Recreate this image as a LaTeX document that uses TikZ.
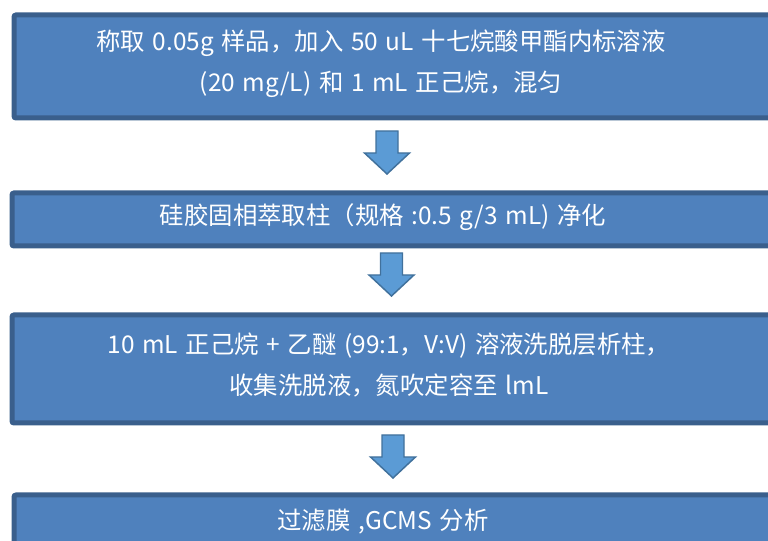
\documentclass[tikz,border=0pt]{standalone}
\usepackage{fontspec}
\setmainfont{Noto Sans CJK SC}[WordSpace=1.4]
\definecolor{boxfill}{HTML}{4F81BD}
\definecolor{boxline}{HTML}{3A5F8C}
\definecolor{arrfill}{HTML}{5B9BD5}
\definecolor{arrline}{HTML}{41719C}
\tikzset{
  stepbox/.style={draw=boxline, fill=boxfill, line width=3.75pt, rounded corners=1.5pt,
    anchor=north west, inner sep=0pt},
  steptext/.style={text=white, font=\fontsize{18.3}{31}\selectfont, align=center, inner sep=0pt},
  blockarrow/.pic={
    \draw[draw=arrline, fill=arrfill, line width=1.1pt, line join=miter]
      (-11,0) -- (11,0) -- (11,22) -- (22.5,22) -- (0,43) -- (-22.5,22) -- (-11,22) -- cycle;
  }
}
\begin{document}
\begin{tikzpicture}[x=0.75pt,y=-0.75pt]
\useasboundingbox (0,0) rectangle (768,541);
\clip (0,0) rectangle (768,541);
\node[stepbox, minimum width=585pt, minimum height=77.25pt] (b1) at (11.5,12.5) {};
\node[stepbox, minimum width=585pt, minimum height=39.75pt] (b2) at (9.5,190.5) {};
\node[stepbox, minimum width=585pt, minimum height=81pt] (b3) at (9.5,312.5) {};
\node[stepbox, minimum width=585pt, minimum height=60pt] (b4) at (11.5,492.5) {};
\node[steptext] (t1) at (381,64) {称取 0.05g 样品，加入 50 uL 十七烷酸甲酯内标溶液\\(20 mg/L) 和 1 mL 正己烷，混匀};
\node[steptext] (t2) at (383,217) {硅胶固相萃取柱（规格 :0.5 g/3 mL) 净化};
\node[steptext] (t3) at (389,365) {10 mL 正己烷 + 乙醚 (99:1，V:V) 溶液洗脱层析柱，\\收集洗脱液，氮吹定容至 lmL};
\node[steptext] (t4) at (383,522) {过滤膜 ,GCMS 分析};
\pic at (387,131) {blockarrow};
\pic at (391.5,253) {blockarrow};
\pic at (393,435) {blockarrow};
\end{tikzpicture}
\end{document}
